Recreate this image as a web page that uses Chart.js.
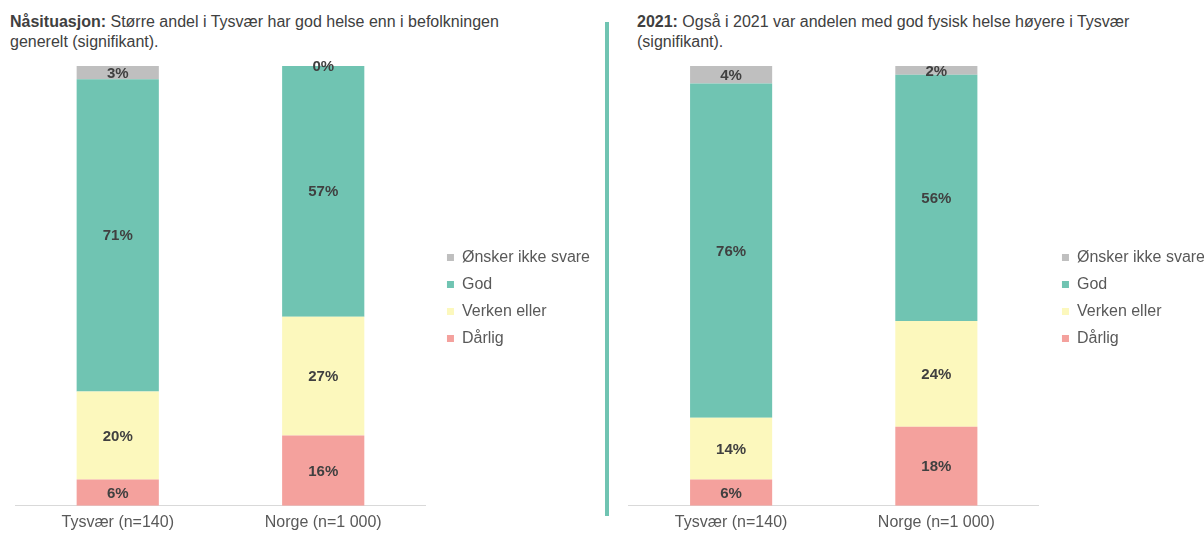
<!DOCTYPE html>
<html>
<head>
<meta charset="utf-8">
<script src="https://cdn.jsdelivr.net/npm/chart.js@4"></script>
<style>
  body { margin: 0; background: #fff; width: 1204px; height: 534px; position: relative; overflow: hidden; font-family: "Liberation Sans", Arial, sans-serif; }
  .title { position: absolute; top: 12px; font-size: 16px; line-height: 20px; color: #404040; white-space: nowrap; }
  .divider { position: absolute; left: 605px; top: 22px; width: 4px; height: 494px; background: #70c4b2; }
  canvas { position: absolute; top: 0; }
</style>
</head>
<body>
<div class="title" style="left:10px"><b>Nåsituasjon:</b> Større andel i Tysvær har god helse enn i befolkningen<br>generelt (signifikant).</div>
<div class="title" style="left:637px"><b>2021:</b> Også i 2021 var andelen med god fysisk helse høyere i Tysvær<br>(signifikant).</div>
<div class="divider"></div>
<canvas id="chartNow" width="604" height="542" style="left:0px"></canvas>
<canvas id="chart2021" width="610" height="542" style="left:612px"></canvas>
<script>
// categories and series
var categories = ['Tysvær (n=140)', 'Norge (n=1 000)'];
var seriesNames = ['Dårlig', 'Verken eller', 'God', 'Ønsker ikke svare'];
var seriesColors = ['#f4a19d', '#fcf8bd', '#70c4b2', '#bfbfbf'];

// Nåsituasjon (%)
var darligNow = [6, 16];
var verkenNow = [20, 27];
var godNow = [71, 57];
var onskerNow = [3, 0];

// 2021 (%)
var darlig2021 = [6, 18];
var verken2021 = [14, 24];
var god2021 = [76, 56];
var onsker2021 = [4, 2];

var fontFamily = '"Liberation Sans", Arial, sans-serif';

// draw the percent labels in the middle of each segment
var segmentLabels = {
    id: 'segmentLabels',
    afterDatasetsDraw: function(chart) {
        var ctx = chart.ctx;
        ctx.save();
        ctx.font = 'bold 15px ' + fontFamily;
        ctx.fillStyle = '#404040';
        ctx.textAlign = 'center';
        ctx.textBaseline = 'middle';
        chart.data.datasets.forEach(function(ds, i) {
            chart.getDatasetMeta(i).data.forEach(function(bar, j) {
                var p = bar.getProps(['x', 'y', 'base'], true);
                ctx.fillText(ds.data[j] + '%', p.x, (p.y + p.base) / 2 + 1);
            });
        });
        ctx.restore();
    }
};

function makeChart(id, values, pad, gap) {
    var ctx = document.getElementById(id).getContext('2d');
    return new Chart(ctx, {
        type: 'bar',
        data: {
            labels: categories,
            datasets: values.map(function(v, i) {
                return {
                    label: seriesNames[i],
                    data: v,
                    backgroundColor: seriesColors[i],
                    borderWidth: 0,
                    categoryPercentage: 1,
                    barPercentage: 0.4
                };
            })
        },
        options: {
            responsive: false,
            animation: false,
            layout: { padding: pad },
            scales: {
                x: {
                    stacked: true,
                    grid: { display: false, drawTicks: false },
                    border: { color: '#d9d9d9', width: 1 },
                    ticks: { color: '#595959', padding: 7, font: { family: fontFamily, size: 16 } }
                },
                // empty spacer above the plot so the legend sits a bit higher
                xTop: {
                    type: 'category',
                    position: 'top',
                    grid: { display: false, drawTicks: false },
                    border: { display: false },
                    ticks: { display: false },
                    afterFit: function(scale) { scale.height = 9; }
                },
                y: {
                    stacked: true,
                    position: 'right',
                    min: 0,
                    max: 100,
                    grid: { display: false, drawTicks: false },
                    border: { display: false },
                    ticks: { display: false },
                    afterFit: function(scale) { scale.width = gap; }
                }
            },
            plugins: {
                legend: {
                    position: 'right',
                    reverse: true,
                    maxWidth: 300,
                    labels: {
                        boxWidth: 7,
                        boxHeight: 7,
                        padding: 11,
                        color: '#595959',
                        font: { family: fontFamily, size: 16 }
                    }
                },
                tooltip: { enabled: false }
            }
        },
        plugins: [segmentLabels]
    });
}

makeChart('chartNow', [darligNow, verkenNow, godNow, onskerNow],
    { left: 15, top: 57, right: 4, bottom: 3 }, 10);
makeChart('chart2021', [darlig2021, verken2021, god2021, onsker2021],
    { left: 16.5, top: 57, right: 7, bottom: 3 }, 12);
</script>
</body>
</html>
